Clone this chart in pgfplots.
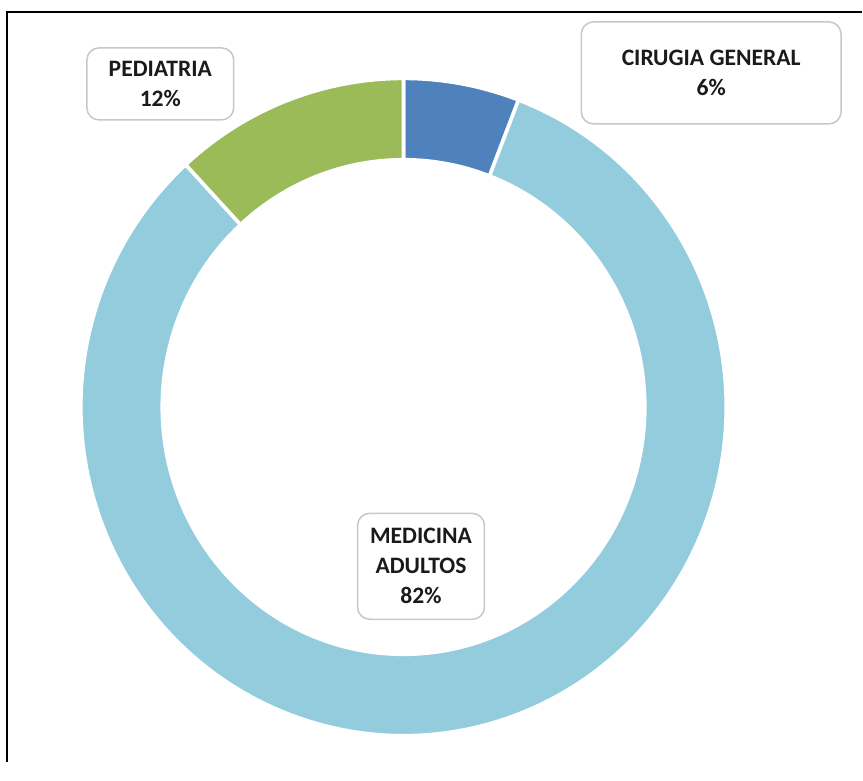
\documentclass[border=0pt]{standalone}
\usepackage{pgfplots}
\usepackage{pgfplotstable}
\pgfplotsset{compat=1.18}
\usepackage{fontspec}
\setmainfont{Carlito}
\definecolor{cCir}{HTML}{4F81BD}
\definecolor{cMed}{HTML}{93CDDD}
\definecolor{cPed}{HTML}{9BBB59}
\definecolor{txt}{HTML}{1A1A1A}
\definecolor{boxline}{HTML}{C8C8C8}
\pgfplotstableread{
label value
Cirugia 5.8
Medicina 82.4
Pediatria 11.8
}\slices
\begin{document}%
\begin{tikzpicture}[
  lbl/.style={draw=boxline, line width=0.75pt, fill=white, rounded corners=6pt,
    align=center, text=txt, font=\fontsize{11.8}{15}\selectfont\bfseries, inner sep=0pt},
  slice/.style={draw=white, line width=1.8pt, shift={(axis cs:404,355.5)}}]
\pgfplotstablegetelem{0}{value}\of\slices \pgfmathsetmacro\aB{90-3.6*\pgfplotsretval}
\pgfplotstablegetelem{1}{value}\of\slices \pgfmathsetmacro\aC{\aB-3.6*\pgfplotsretval}
\pgfplotstablegetelem{2}{value}\of\slices \pgfmathsetmacro\aD{\aC-3.6*\pgfplotsretval}
\begin{axis}[x=0.5pt, y=0.5pt, xmin=0, xmax=863, ymin=0, ymax=763,
  hide axis, scale only axis, clip=false]
\path (axis cs:0,0) rectangle (axis cs:863,763);
\filldraw[cCir, slice]
  (90:161.5pt and 164.5pt) arc[start angle=90, end angle=\aB, x radius=161.5pt, y radius=164.5pt]
  -- (\aB:120.8pt and 123.8pt) arc[start angle=\aB, end angle=90, x radius=120.8pt, y radius=123.8pt] -- cycle;
\filldraw[cMed, slice]
  (\aB:161.5pt and 164.5pt) arc[start angle=\aB, end angle=\aC, x radius=161.5pt, y radius=164.5pt]
  -- (\aC:120.8pt and 123.8pt) arc[start angle=\aC, end angle=\aB, x radius=120.8pt, y radius=123.8pt] -- cycle;
\filldraw[cPed, slice]
  (\aC:161.5pt and 164.5pt) arc[start angle=\aC, end angle=\aD, x radius=161.5pt, y radius=164.5pt]
  -- (\aD:120.8pt and 123.8pt) arc[start angle=\aD, end angle=\aC, x radius=120.8pt, y radius=123.8pt] -- cycle;
\draw[line width=1pt, black] (axis cs:7,0) -- (axis cs:7,751) -- (axis cs:863,751);
\node[lbl, minimum width=130pt, minimum height=51pt] at (axis cs:712,690) {CIRUGIA GENERAL\\6\%};
\node[lbl, minimum width=73.5pt, minimum height=36pt] at (axis cs:160.5,679) {PEDIATRIA\\12\%};
\node[lbl, minimum width=63.5pt, minimum height=53pt] at (axis cs:421.5,196) {MEDICINA\\ADULTOS\\82\%};
\end{axis}
\end{tikzpicture}%
\end{document}
